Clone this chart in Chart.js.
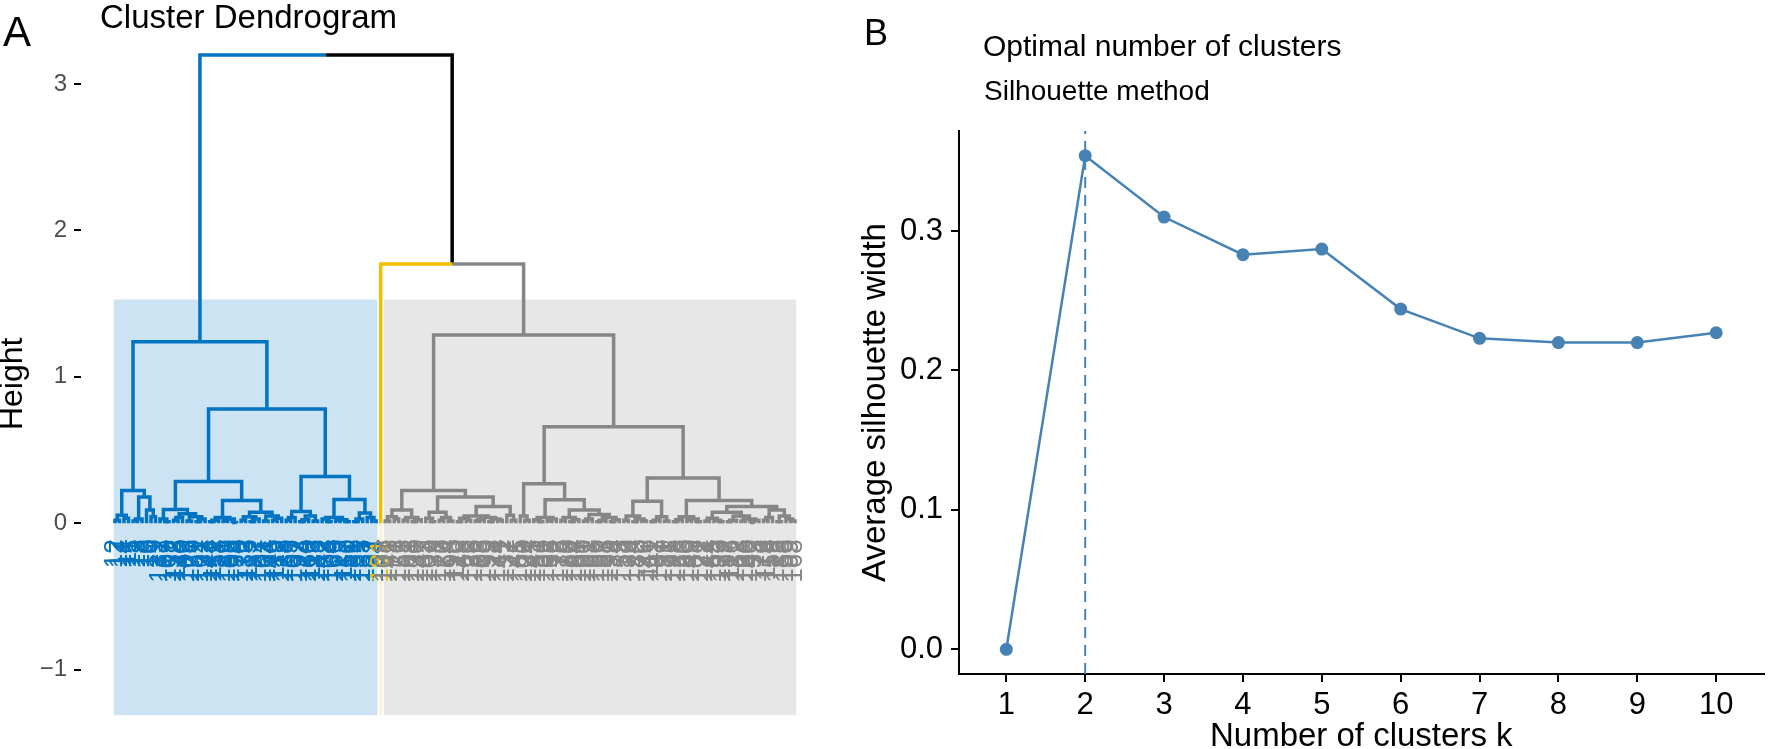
<!DOCTYPE html>
<html>
<head>
<meta charset="utf-8">
<title>Cluster dendrogram and silhouette</title>
<script src="https://cdn.jsdelivr.net/npm/chart.js@4.4.1/dist/chart.umd.min.js"></script>
<style>
  body { margin: 0; background: #fff; font-family: 'Liberation Sans', Arial, Helvetica, sans-serif; }
  #page { position: relative; width: 1770px; height: 749px; overflow: hidden; background: #fff; }
  canvas { position: absolute; top: 0; }
  #dendroCanvas { left: 0; }
  #silCanvas { left: 840px; }
  .label { position: absolute; white-space: nowrap; line-height: 1; color: #000; }
</style>
</head>
<body>
<div id="page">
  <canvas id="dendroCanvas" width="840" height="749"></canvas>
  <canvas id="silCanvas" width="930" height="749"></canvas>
  <div class="label" style="left:3px; top:11px; font-size:42px;">A</div>
  <div class="label" style="left:100px; top:0px; font-size:33px;">Cluster Dendrogram</div>
  <div class="label" style="left:864px; top:15px; font-size:36px;">B</div>
  <div class="label" style="left:983px; top:31px; font-size:30px;">Optimal number of clusters</div>
  <div class="label" style="left:984px; top:77px; font-size:28px;">Silhouette method</div>
</div>
<script>
const FONT = "'Liberation Sans', Arial, Helvetica, sans-serif";
Chart.defaults.font.family = FONT;
Chart.defaults.color = '#000';

// ---------- Panel A data ----------
// each cluster is a tree "(left,right):mergeHeight", leaves are sample ids
const blueTree =
  "(" +
    "(((12,17):0.02,(14,11):0.035):0.055,(((15,13):0.015,18):0.03,(16,(10,19):0.045):0.09):0.18):0.224" +
  ",(" +
    "(((131,(67,109):0.01):0.03,(((152,118):0.02,40):0.04,((103,176):0.015,((52,161):0.01,137):0.03):0.045):0.065):0.095," +
    "((((144,112):0.01,58):0.02,((121,189):0.015,(106,94):0.005):0.03):0.04," +
    "(((170,133):0.02,((115,82):0.01,127):0.03):0.045,((101,164):0.015,((46,119):0.02,173):0.035):0.05):0.075):0.155):0.285" +
  "," +
    "((((138,55):0.02,107):0.04,(((192,24):0.01,160):0.025,(113,185):0.015):0.05):0.08," +
    "(((142,(78,104):0.01):0.03,((169,29):0.02,(117,150):0.01):0.025):0.04," +
    "(((186,31):0.01,135):0.03,(157,(22,194):0.015):0.04):0.07):0.163):0.32" +
  "):0.78" +
  "):1.24";

const yellowTree = "181";

const greyTree =
  "(" +
    "((((108,143):0.015,(71,126):0.03):0.045,((153,61):0.02,((188,130):0.01,147):0.025):0.04):0.09," +
    "(((163,(102,39):0.01):0.035,((177,120):0.02,(154,95):0.015):0.04):0.075," +
    "((((110,148):0.01,(68,123):0.02):0.035,(((136,83):0.015,105):0.025,((159,28):0.01,(174,141):0.02):0.03):0.04):0.05," +
    "(132,(27,41):0.02):0.055):0.115):0.18):0.224" +
  ",(" +
    "((165,(100,134):0.02):0.05," +
    "(((145,(151,56):0.01):0.025,((162,66):0.015,172):0.03):0.04," +
    "(((175,179):0.02,((80,184):0.01,187):0.025):0.04," +
    "(((190,191):0.015,93):0.03,(((196,197):0.01,198):0.02,((199,34):0.01,73):0.025):0.04):0.06):0.09):0.16):0.27" +
  "," +
    "((((158,36):0.02,((124,183):0.01,(70,146):0.015):0.03):0.05,(((111,91):0.01,167):0.02,(139,21):0.015):0.045):0.15," +
    "((((195,128):0.01,53):0.025,((180,149):0.02,(88,122):0.01):0.03):0.045," +
    "((((171,44):0.015,(155,(193,129):0.01):0.02):0.035,(((97,116):0.01,182):0.02,((63,166):0.015,((140,33):0.005,178):0.02):0.03):0.05):0.075," +
    "(((76,114):0.02,59):0.04,((125,85):0.01,(156,(99,168):0.015):0.03):0.05):0.09):0.115):0.155):0.31" +
  "):0.66" +
  "):1.286";

const clusterTrees = [blueTree, yellowTree, greyTree];
// how the clusters join above the cut (leaf = index into clusterTrees)
const upperTree = "(0,(1,2):1.77):3.197";
const clusterColors = ['#0073C2', '#EFC000', '#868686'];
const clusterFills = ['rgba(0,115,194,0.2)', 'rgba(239,192,0,0.2)', 'rgba(134,134,134,0.2)'];
const heightTicks = [-1, 0, 1, 2, 3];

// ---------- Panel B data ----------
const kValues = [1, 2, 3, 4, 5, 6, 7, 8, 9, 10];
const avgSilhouette = [0, 0.354, 0.310, 0.283, 0.287, 0.244, 0.223, 0.220, 0.220, 0.227];
const optimalK = 2;
const silhouetteTicks = [0, 0.1, 0.2, 0.3];

// layout constants
const RECT_BOTTOM = -1.31;
const LABEL_Y = -0.11;

function parseTree(text) {
  const str = text.replace(/\s+/g, '');
  let pos = 0;
  function readNode() {
    if (str[pos] === '(') {
      pos++;
      const left = readNode();
      pos++;
      const right = readNode();
      pos++;
      pos++;
      const start = pos;
      while (pos < str.length && /[0-9.]/.test(str[pos])) pos++;
      return { h: parseFloat(str.slice(start, pos)), children: [left, right] };
    }
    const start = pos;
    while (pos < str.length && !/[,()]/.test(str[pos])) pos++;
    return { h: 0, label: str.slice(start, pos) };
  }
  return readNode();
}

function markCluster(node, c) {
  node.cluster = c;
  if (node.children) node.children.forEach(ch => markCluster(ch, c));
}

function buildDendrogram() {
  function attach(node) {
    if (!node.children) {
      const c = Number(node.label);
      const sub = parseTree(clusterTrees[c]);
      markCluster(sub, c);
      return sub;
    }
    node.cluster = -1;
    node.children = node.children.map(attach);
    return node;
  }
  const root = attach(parseTree(upperTree));
  const leaves = [];
  const heights = [];
  (function place(node) {
    if (!node.children) {
      node.x = leaves.length;
      leaves.push(node);
      return;
    }
    heights.push(node.h);
    node.children.forEach(place);
    node.x = (node.children[0].x + node.children[1].x) / 2;
  })(root);
  heights.sort((a, b) => b - a);
  return { root, leaves, heights };
}

const dendro = buildDendrogram();

// branch polylines, one dataset per colour (black = above the clusters)
const branchColors = clusterColors.concat(['#000000']);
const branchPoints = branchColors.map(() => []);
(function walk(node) {
  if (!node.children) return;
  node.children.forEach(ch => {
    const i = ch.cluster >= 0 ? ch.cluster : clusterColors.length;
    branchPoints[i].push(
      { x: node.x, y: node.h },
      { x: ch.x, y: node.h },
      { x: ch.x, y: ch.h },
      { x: ch.x, y: null }
    );
    walk(ch);
  });
})(dendro.root);

const k = clusterTrees.length;
const rectTop = (dendro.heights[k - 2] + dendro.heights[k - 1]) / 2;

const rectDatasets = clusterTrees.map((t, c) => {
  const xs = dendro.leaves.filter(l => l.cluster === c).map(l => l.x);
  return {
    data: [{ x: Math.min(...xs) - 0.34, y: rectTop }, { x: Math.max(...xs) + 0.33, y: rectTop }],
    fill: { value: RECT_BOTTOM },
    backgroundColor: clusterFills[c],
    borderWidth: 0,
    pointRadius: 0,
    order: 3
  };
});

const branchDatasets = branchColors.map((col, i) => ({
  data: branchPoints[i],
  borderColor: col,
  borderWidth: 3.5,
  pointRadius: 0,
  fill: false,
  borderJoinStyle: 'miter',
  borderCapStyle: 'butt',
  order: 1
}));

const leafLabelPlugin = {
  id: 'leafLabels',
  afterDatasetsDraw(chart) {
    const { ctx, scales } = chart;
    const y0 = scales.y.getPixelForValue(LABEL_Y);
    ctx.save();
    ctx.font = '26px ' + FONT;
    ctx.textAlign = 'right';
    ctx.textBaseline = 'middle';
    dendro.leaves.forEach(leaf => {
      ctx.save();
      ctx.translate(scales.x.getPixelForValue(leaf.x), y0);
      ctx.rotate(-Math.PI / 2);
      ctx.fillStyle = clusterColors[leaf.cluster];
      ctx.fillText(leaf.label, 0, 0);
      ctx.restore();
    });
    ctx.restore();
  }
};

new Chart(document.getElementById('dendroCanvas'), {
  type: 'line',
  data: { datasets: rectDatasets.concat(branchDatasets) },
  options: {
    responsive: false,
    animation: false,
    events: [],
    layout: { padding: { top: 40, right: 10, bottom: 19, left: 0 } },
    plugins: { legend: { display: false }, tooltip: { enabled: false } },
    scales: {
      x: { type: 'linear', display: false, min: -7.55, max: 158.77 },
      y: {
        type: 'linear',
        min: -1.395,
        max: 3.3,
        afterFit: s => { s.width = 81; },
        afterBuildTicks: s => { s.ticks = heightTicks.map(v => ({ value: v })); },
        border: { display: false },
        grid: { drawOnChartArea: false, drawTicks: true, tickLength: 7, color: '#000', lineWidth: 2 },
        ticks: {
          color: '#4D4D4D',
          font: { size: 24 },
          padding: 7,
          callback: v => (v < 0 ? '\u2212' + Math.abs(v) : String(v))
        },
        title: { display: true, text: 'Height', color: '#000', font: { size: 32, lineHeight: 0.85 }, padding: { top: 0, bottom: 0 } }
      }
    }
  },
  plugins: [leafLabelPlugin]
});

// ---------- Panel B ----------
const silRange = Math.max(...avgSilhouette) - Math.min(...avgSilhouette);
const silMin = Math.min(...avgSilhouette) - 0.05 * silRange;
const silMax = Math.max(...avgSilhouette) + 0.05 * silRange;

new Chart(document.getElementById('silCanvas'), {
  type: 'line',
  data: {
    datasets: [
      {
        data: kValues.map((kv, i) => ({ x: kv, y: avgSilhouette[i] })),
        borderColor: '#4682B4',
        backgroundColor: '#4682B4',
        borderWidth: 2.5,
        pointRadius: 6.5,
        pointBorderWidth: 0,
        tension: 0,
        order: 1
      },
      {
        data: [{ x: optimalK, y: silMin }, { x: optimalK, y: silMax }],
        borderColor: '#4682B4',
        borderWidth: 2,
        borderDash: [11, 7],
        pointRadius: 0,
        order: 2
      }
    ]
  },
  options: {
    responsive: false,
    animation: false,
    events: [],
    layout: { padding: { top: 131, right: 0, bottom: 0, left: 0 } },
    plugins: { legend: { display: false }, tooltip: { enabled: false } },
    scales: {
      x: {
        type: 'linear',
        min: kValues[0] - 0.6,
        max: kValues[kValues.length - 1] + 0.6,
        afterFit: s => { s.height = 75; },
        afterBuildTicks: s => { s.ticks = kValues.map(v => ({ value: v })); },
        border: { display: true, color: '#000', width: 2 },
        grid: { drawOnChartArea: false, drawTicks: true, tickLength: 8, color: '#000', lineWidth: 2 },
        ticks: { color: '#000', font: { size: 31 }, padding: 5, maxRotation: 0 },
        title: { display: true, text: 'Number of clusters k', font: { size: 33, lineHeight: 0.75 }, padding: { top: 0, bottom: 0 } }
      },
      y: {
        type: 'linear',
        min: silMin,
        max: silMax,
        afterFit: s => { s.width = 119; },
        afterBuildTicks: s => { s.ticks = silhouetteTicks.map(v => ({ value: v })); },
        border: { display: true, color: '#000', width: 2 },
        grid: { drawOnChartArea: false, drawTicks: true, tickLength: 8, color: '#000', lineWidth: 2 },
        ticks: { color: '#000', font: { size: 31 }, padding: 8, callback: v => v.toFixed(1) },
        title: { display: true, text: 'Average silhouette width', font: { size: 33 }, padding: { top: 16, bottom: 0 } }
      }
    }
  }
});
</script>
</body>
</html>
